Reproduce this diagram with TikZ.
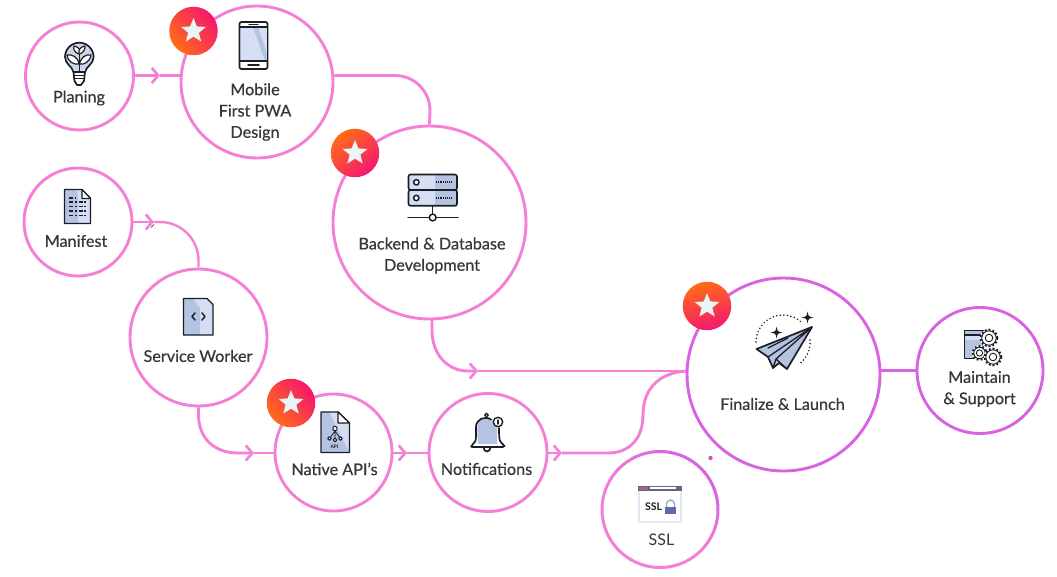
\documentclass[tikz,border=0pt]{standalone}
\usepackage{fontspec}
\setmainfont{Lato}
\usetikzlibrary{arrows.meta,shapes.geometric,backgrounds,calc}
\definecolor{pinkln}{HTML}{F67FD6}
\definecolor{purpln}{HTML}{D962E2}
\definecolor{txt}{HTML}{37373C}
\definecolor{ink}{HTML}{1D1D26}
\definecolor{blueA}{HTML}{B5C3E3}
\definecolor{blueB}{HTML}{D5DEF2}
\definecolor{badgeP}{HTML}{F5176F}
\definecolor{badgeO}{HTML}{FF6C17}
\definecolor{starfill}{HTML}{E9F4F4}
\tikzset{
  ring/.style={circle,draw=pinkln,fill=white,line width=2.9pt,inner sep=0pt,minimum size=#1},
  ringP/.style={ring=#1,draw=purpln},
  conn/.style={draw=pinkln,line width=2.9pt},
  connP/.style={conn,draw=purpln},
  chev/.style={-{Straight Barb[length=6.5pt,width=15pt,line width=2.6pt]}},
  lab/.style={text=txt,font=\fontsize{16.2}{21.3}\selectfont\addfontfeature{FakeBold=0.5},align=center,inner sep=0pt},
  badge/.style={circle,minimum size=48.5pt,inner sep=0pt,top color=badgeP,bottom color=badgeO,shading angle=#1},
  starshape/.style={star,star points=5,star point ratio=2.3,minimum size=26pt,inner sep=0pt,fill=starfill},
  ik/.style={draw=ink,line width=1.7pt,line join=round,line cap=round},
  ikt/.style={draw=ink,line width=1pt,line join=round,line cap=round},
}
\newcommand{\gearic}[3]{%
  \fill[white] (#1,#2) circle (#3);
  \draw[ink,line width=2.2pt,dash pattern=on 1.8pt off 2pt] (#1,#2) circle ({#3-0.8});
  \draw[ink,line width=0.9pt,fill=white] (#1,#2) circle ({#3-1.8});
  \draw[ink,line width=0.9pt] (#1,#2) circle ({#3*0.42});
}
\newcommand{\spark}[3]{%
  \fill[ink] (#1,#2-#3) .. controls (#1+0.15*#3,#2-0.15*#3) .. (#1+#3,#2) .. controls (#1+0.15*#3,#2+0.15*#3) .. (#1,#2+#3)
    .. controls (#1-0.15*#3,#2+0.15*#3) .. (#1-#3,#2) .. controls (#1-0.15*#3,#2-0.15*#3) .. (#1,#2-#3) -- cycle;
}
\begin{document}
\begin{tikzpicture}[x=1pt,y=-1pt]
\useasboundingbox (0,0) rectangle (1057,577);
\begin{pgfonlayer}{background}
\fill[white] (0,0) rectangle (1057,577);
\end{pgfonlayer}
% rings
\node[ring=108pt] (plan) at (79.5,76) {};
\node[ring=152pt] (mob) at (257,82) {};
\node[ring=108pt] (mani) at (78,222) {};
\node[ring=193pt] (back) at (429.5,222.5) {};
\node[ring=137pt] (serv) at (198.5,337.5) {};
\node[ring=117pt] (nat) at (333.5,452.5) {};
\node[ring=118pt] (noti) at (488,452.5) {};
\node[ringP=193pt] (fin) at (783.5,374.5) {};
\node[ringP=126pt] (main) at (980,370.5) {};
\node[circle,minimum size=116pt,inner sep=0pt] (ssl) at (660,509.5) {};
% SSL ring, pink to purple round the circle
\foreach \a/\m in {-60/0,-40/25,-20/60,0/95,20/100,40/100,60/100,80/90,100/65,120/35,140/10,160/0,180/0,200/0,220/0,240/0,260/0,280/0}{
  \draw[line width=3pt,draw=purpln!\m!pinkln] ($(ssl.center)+({58*cos(\a)},{-58*sin(\a)})$) arc[start angle=-\a,end angle=-\a-20.5,radius=58];
}
\fill[purpln!80!purple] (710.5,458) circle (2.2pt);
% connectors
\coordinate (a1) at (160,75.5);
\coordinate (m1) at (395,75.5);
\coordinate (a2) at (154,222);
\coordinate (a3) at (254,453);
\coordinate (a4) at (407,453);
\coordinate (a5) at (562,453);
\coordinate (a6) at (478,371);
\begin{pgfonlayer}{background}
\draw[conn] (a1) -- (a1 -| mob.west);
\draw[conn,chev] (a1 -| plan.east) -- (a1);
\draw[conn] (mob.east |- m1) -- (m1) arc[start angle=-90,end angle=0,radius=35] -- (back.north);
\draw[conn,line width=2.4pt,chev] (mani.east) -- (a2);
\draw[conn,line width=2.4pt] (a2) -- (160,222) arc[start angle=-90,end angle=0,radius=38.5] -- (serv.north);
\draw[conn,chev] (serv.south) -- (198.5,415) .. controls (198.5,438) and (214,453) .. (238,453) -- (a3);
\draw[conn] (a3) -- (nat.west |- a3);
\draw[conn,chev] (nat.east |- a4) -- (a4);
\draw[conn] (a4) -- (noti.west |- a4);
\draw[conn,chev] (noti.east |- a5) -- (a5);
\draw[conn] (a5) -- (608,453) .. controls (630,453) and (643,438) .. (643,415) .. controls (643,388) and (660,372) .. (688,371);
\draw[conn,chev] (432,319) -- (432,330) .. controls (432,355) and (448,371) .. (468,371) -- (a6);
\draw[conn] (a6) -- (a6 -| fin.west);
\draw[connP] (fin.east |- main.west) -- (main.west);
\end{pgfonlayer}
\draw[blueA!60!ink!70!blue,line width=1pt] (151,227.5) -- (154,224.5);
% badges
\foreach \n/\x/\y/\ang in {b1/193.5/31/-50,b2/355/153/-140,b3/291/403/-50,b4/707/306/-165}{
  \node[badge=\ang] (\n) at (\x,\y) {};
  \node[starshape] (\n s) at (\x,\y) {};
}
% labels
\node[lab] (lplan) at (79,98) {Planing};
\node[lab] (lmob) at (255,112) {Mobile\\First PWA\\Design};
\node[lab] (lman) at (76,241) {Manifest};
\node[lab] (lback) at (432,255.5) {Backend \& Database\\Development};
\node[lab] (lserv) at (198,356) {Service Worker};
\node[lab] (lnat) at (334.5,469) {Native API’s};
\node[lab] (lnot) at (486.5,469) {Notifications};
\node[lab] (lfin) at (782.5,404) {Finalize \& Launch};
\node[lab] (lmain) at (979.5,389) {Maintain\\\& Support};
\node[lab,font=\fontsize{16}{21}\selectfont] (lssl) at (661.5,540) {SSL};
% --- icons
% bulb
\fill[blueA!70!white] (79.3,57) circle (14);
\draw[ik] (73.5,72) .. controls (72,66) and (65,64) .. (65,57) arc[start angle=180,end angle=360,radius=14.3] .. controls (93.6,64) and (86.5,66) .. (85,72);
\draw[ik,fill=white] (73.5,72) -- (85,72) -- (84,81) -- (81,85) -- (77,85) -- (74.5,81) -- cycle;
\draw[ikt] (74,75.5) -- (84.5,75.5) (74.3,79) -- (84.3,79);
\draw[ik,line width=1.2pt] (79.3,72) -- (79.3,52);
\draw[ik,line width=1.2pt,fill=white] (79.3,54) .. controls (74,53) and (73,48) .. (74,46) .. controls (79,47) and (81,50) .. (79.3,54);
\draw[ik,line width=1.2pt,fill=white] (79.3,54) .. controls (84,53) and (85,49) .. (85,46) .. controls (80,47) and (78,50) .. (79.3,54);
\draw[ik,line width=1.2pt,fill=white] (79,64) .. controls (74,65) and (68,62) .. (67,55) .. controls (72,54) and (78,57) .. (79,64);
\draw[ik,line width=1.2pt,fill=white] (79.5,64) .. controls (84,65) and (90,62) .. (91,55) .. controls (86,54) and (81,57) .. (79.5,64);
% phone
\draw[ik,fill=white,rounded corners=2pt] (239.5,22) rectangle (267.5,69);
\fill[blueB] (240.5,27) rectangle (266.5,61);
\fill[blueA] (253,27) -- (258,27) -- (266.5,52) -- (266.5,61) -- (265,61) -- cycle;
\draw[ikt,line width=1.2pt] (240,27) -- (267,27) (240,61) -- (267,61);
\draw[ikt,line width=1.5pt] (249,24.7) -- (258,24.7) (248,64.8) -- (259,64.8);
% manifest document
\fill[blueB] (64.5,189.5) -- (82,189.5) -- (90.5,198.5) -- (90.5,223.5) -- (64.5,223.5) -- cycle;
\fill[blueA] (64.5,189.5) -- (76,189.5) -- (78,195) -- (78,223.5) -- (64.5,223.5) -- cycle;
\draw[ik,line width=1.4pt] (64.5,189.5) -- (82,189.5) -- (90.5,198.5) -- (90.5,223.5) -- (64.5,223.5) -- cycle;
\draw[ik,line width=1.1pt,fill=white] (82,189.5) -- (82,198.5) -- (90.5,198.5) -- cycle;
\draw[ink,line width=1.2pt,dash pattern=on 4pt off 1.5pt on 2pt off 2pt] (69,198) -- (76,198) (69,202) -- (86,202) (69,206.5) -- (86,206.5) (69,211) -- (86,211) (69,215.5) -- (86,215.5);
% server
\fill[blueB] (409,175) rectangle (457,205);
\fill[blueA] (435,175) rectangle (457,205);
\draw[ik,rounded corners=2pt,line width=1.6pt] (408.5,174.5) rectangle (457,190);
\draw[ik,rounded corners=2pt,line width=1.6pt] (408.5,190) rectangle (457,205.8);
\draw[ik,fill=white,line width=1.5pt] (416.3,182.3) circle (2.7) (416.3,198) circle (2.7);
\draw[ink,line width=1.6pt,dash pattern=on 1.2pt off 1pt] (436,182) -- (452,182) (436,198) -- (452,198);
\draw[ik,line width=1.5pt] (432.7,206) -- (432.7,214) (408,217.5) -- (428.5,217.5) (437,217.5) -- (458,217.5);
\draw[ik,line width=1.5pt,fill=white] (432.7,217.5) circle (3.4);
% service worker file
\fill[blueB] (183.5,298.5) -- (207,298.5) -- (213,304.5) -- (213,335) -- (183.5,335) -- cycle;
\fill[blueA] (183.5,298.5) -- (193,298.5) -- (200,308) -- (200,335) -- (183.5,335) -- cycle;
\draw[ik,line width=1.4pt] (183.5,298.5) -- (207,298.5) -- (213,304.5) -- (213,335) -- (183.5,335) -- cycle;
\draw[ik,line width=1.5pt] (195,313) -- (192,316.5) -- (195,320) (202,313) -- (205,316.5) -- (202,320);
% API file
\fill[blueB] (321,412) -- (338,412) -- (349.5,423) -- (349.5,452.5) -- (321,452.5) -- cycle;
\fill[blueA] (321,412) -- (329,412) -- (349.5,452.5) -- (321,452.5) -- cycle;
\draw[ik,line width=1.4pt] (321,412) -- (338,412) -- (349.5,423) -- (349.5,452.5) -- (321,452.5) -- cycle;
\draw[ik,line width=1.2pt,fill=white] (338,412) -- (338,423) -- (349.5,423) -- cycle;
\draw[ikt,line width=0.8pt] (335,431) -- (335,439) (335,431) -- (330,438) (335,431) -- (340,438);
\draw[ikt,fill=white] (335,428.5) circle (2.2) (329.5,438.5) circle (1.8) (335,440) circle (1.8) (340.5,438.5) circle (1.8);
\node[font=\fontsize{4.8}{5}\selectfont\bfseries,text=ink,inner sep=0pt] (apit) at (334.5,446.5) {API};
% bell
\fill[blueA] (478,444) .. controls (477,430) and (475,418) .. (487,418) .. controls (499,418) and (497,430) .. (497,444) -- cycle;
\draw[ik] (483.5,447) .. controls (483.5,453) and (490.5,453) .. (490.5,447);
\draw[ik,rounded corners=3pt] (491,419.5) .. controls (484,415) and (476,420) .. (476,430) .. controls (476,437) and (476,441) .. (472.5,444) .. controls (471.5,446) and (473,447) .. (475,447) -- (500,447) .. controls (503,447) and (503.5,445) .. (502.5,444) .. controls (499,440) and (499,434) .. (499,428);
\draw[ik,fill=white,line width=1.3pt] (486.5,415) circle (1.8);
\draw[ik,fill=white,line width=1.4pt] (498,422) circle (4.7);
\draw[ik,line width=1.2pt] (498,420) -- (498,424);
% plane
\draw[ink,line width=1.7pt,line cap=round,dash pattern=on 0pt off 3.6pt] (756,342) arc[start angle=180,end angle=315,radius=27];
\draw[ink,line width=1.7pt,line cap=round,dash pattern=on 0pt off 3.6pt] (810,340) arc[start angle=-5,end angle=55,radius=27];
\spark{807.5}{317.5}{6}
\spark{776.5}{332.5}{6}
\fill[white] (812,327) -- (756.5,349) -- (768,357) -- (773,368) -- (779,363) -- (787,369) -- cycle;
\fill[blueA] (812,327) -- (756.5,349) -- (768,357) -- (773,368) -- (779,363) -- (787,369) -- cycle;
\draw[ik] (812,327) -- (756.5,349) -- (768,357) -- (773,368) -- (779,363) -- (787,369) -- cycle;
\draw[ik,line width=1.3pt] (812,327) -- (768,357) (812,327) -- (776,359) -- (787,369) (776,359) -- (773,368) (768,348) -- (788,338);
% maintain window and gears
\fill[blueA] (964.5,330.5) rectangle (984,358.5);
\fill[blueB] (964.5,335) rectangle (990,340);
\draw[ik,line width=1.4pt] (990,332) -- (990,330.5) -- (964.5,330.5) -- (964.5,358.5) -- (974,358.5);
\draw[ik,line width=1.2pt] (964.5,335) -- (982,335);
\gearic{989}{338}{9}
\gearic{979.5}{353}{7.5}
\gearic{993}{357}{9}
% SSL window
\fill[blueB!70!white] (637.5,486) rectangle (682,522.5);
\fill[white] (639.5,491) rectangle (680,520.5);
\fill[ink!55!blueA] (638,486) rectangle (681.5,490.5);
\fill[white] (650,487.2) rectangle (676,489.3);
\fill[red!45!ink!50!blueA] (639,487) rectangle (648,489.5);
\node[font=\fontsize{10.5}{11}\selectfont\bfseries,text=ink,inner sep=0pt] (sslt) at (653.5,507) {SSL};
\draw[blueA!80!ink,line width=1.2pt] (666.5,507) -- (666.5,504) arc[start angle=180,end angle=360,radius=4] -- (674.5,507);
\fill[blueA!60!ink!80!blue] (665,506.5) rectangle (676,513.5);
\end{tikzpicture}
\end{document}
